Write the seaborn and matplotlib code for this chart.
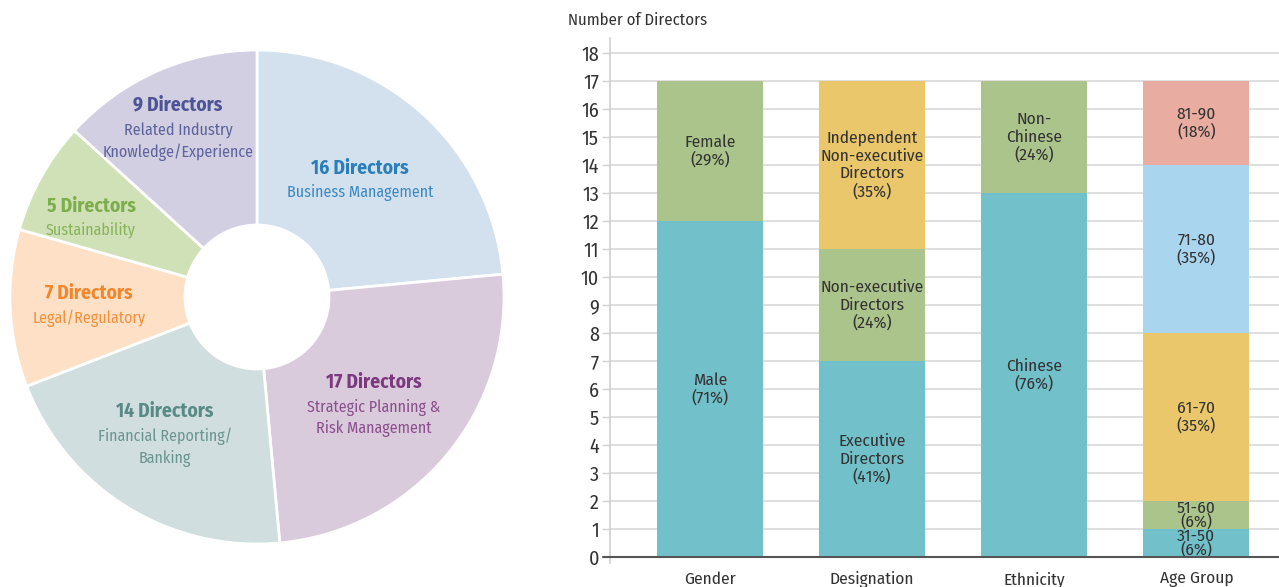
import matplotlib
matplotlib.use("Agg")
import matplotlib.pyplot as plt
import seaborn as sns
import numpy as np
import pandas as pd

# ---------------- data ----------------
skill_counts = [16, 17, 14, 7, 5, 9]
skill_titles = ["16 Directors", "17 Directors", "14 Directors", "7 Directors", "5 Directors", "9 Directors"]
skill_names = ["Business Management", "Strategic Planning &\nRisk Management", "Financial Reporting/\nBanking",
               "Legal/Regulatory", "Sustainability", "Related Industry\nKnowledge/Experience"]

categories = ["Gender", "Designation", "Ethnicity", "Age Group"]
gender_values = [12, 5]
gender_labels = ["Male\n(71%)", "Female\n(29%)"]
designation_values = [7, 4, 6]
designation_labels = ["Executive\nDirectors\n(41%)", "Non-executive\nDirectors\n(24%)",
                      "Independent\nNon-executive\nDirectors\n(35%)"]
ethnicity_values = [13, 4]
ethnicity_labels = ["Chinese\n(76%)", "Non-\nChinese\n(24%)"]
age_values = [1, 1, 6, 6, 3]
age_labels = ["31-50\n(6%)", "51-60\n(6%)", "61-70\n(35%)", "71-80\n(35%)", "81-90\n(18%)"]
y_ticks = list(range(0, 19))

# ---------------- styles ----------------
sns.set_theme(style="white")
plt.rcParams['font.family'] = ['Fira Sans Condensed', 'Asap Condensed', 'PT Sans Narrow', 'DejaVu Sans']

wedge_colors = ["#d3e1ee", "#dacbdc", "#d1dedf", "#fde0c5", "#d0e0b7", "#d1cfe1"]
title_colors = ["#2b7fb8", "#7b3a7d", "#5a8a86", "#f0872c", "#7cae4c", "#4d5494"]
name_colors = ["#3a89bf", "#8a4f8c", "#6b9591", "#f2913a", "#87b35a", "#5d639c"]

TEAL, GREEN, YELLOW, BLUE, SALMON = "#72c0ca", "#abc48b", "#ebc76b", "#a9d5ef", "#e8ada0"
seg_colors = [[TEAL, GREEN], [TEAL, GREEN, YELLOW], [TEAL, GREEN], [TEAL, GREEN, YELLOW, BLUE, SALMON]]

W, H = 1279, 587
fig = plt.figure(figsize=(W / 100, H / 100), dpi=100)

# ---------------- donut ----------------
cx, cy, R, r_in = 257, 297, 247, 72
half = 252
axd = fig.add_axes([(cx - half) / W, (H - cy - half) / H, 2 * half / W, 2 * half / H])
axd.pie(skill_counts, colors=wedge_colors, startangle=90, counterclock=False,
        radius=1.0, wedgeprops=dict(width=1 - r_in / R, edgecolor="white", linewidth=2))
axd.set_xlim(-half / R, half / R)
axd.set_ylim(-half / R, half / R)
axd.set_aspect("equal")
axd.axis("off")

title_pos = [(360, 168), (374, 382), (165, 411), (89, 293), (91, 206), (178, 105)]
name_pos = [(360, 193), (374, 418), (165, 447), (89, 318), (91, 230), (178, 142)]
for i in range(len(skill_counts)):
    tx, ty = title_pos[i]
    fig.text(tx / W, 1 - ty / H, skill_titles[i], ha="center", va="center",
             fontsize=14, fontweight="bold", color=title_colors[i])
    nx, ny = name_pos[i]
    fig.text(nx / W, 1 - ny / H, skill_names[i], ha="center", va="center",
             fontsize=11.5, color=name_colors[i], linespacing=1.35)

# ---------------- stacked bars ----------------
ax_left, ax_right, ax_top, ax_bot = 610, 1279, 38, 563
ax = fig.add_axes([ax_left / W, (H - ax_bot) / H, (ax_right - ax_left) / W, (ax_bot - ax_top) / H])

all_values = [gender_values, designation_values, ethnicity_values, age_values]
all_labels = [gender_labels, designation_labels, ethnicity_labels, age_labels]

rows = []
for ci, cat in enumerate(categories):
    cum = np.cumsum(all_values[ci])
    for si, v in enumerate(all_values[ci]):
        rows.append(dict(cat=cat, ci=ci, si=si, top=cum[si], bottom=cum[si] - v,
                         color=seg_colors[ci][si], label=all_labels[ci][si]))
df = pd.DataFrame(rows)

# draw tallest cumulative first so each segment overlays correctly
for _, row in df.sort_values("top", ascending=False).iterrows():
    sns.barplot(x=[row["cat"]], y=[row["top"]], order=categories, color=row["color"],
                width=0.655, ax=ax, saturation=1, linewidth=0, zorder=2)

for _, row in df.iterrows():
    mid = (row["top"] + row["bottom"]) / 2
    small = (row["top"] - row["bottom"]) < 1.5
    ax.text(row["ci"], mid, row["label"], ha="center", va="center", fontsize=12.5,
            color="#333333", linespacing=0.78 if small else 1.15, zorder=3)

ax.set_xlim(-0.617, 3.51)
ax.set_ylim(-0.21, 18.54)
ax.set_yticks(y_ticks)
ax.set_yticklabels([str(t) for t in y_ticks])
ax.yaxis.grid(True, color="#d9d9d9", linewidth=1.2, zorder=0)
ax.set_axisbelow(True)
for s in ["top", "right", "bottom"]:
    ax.spines[s].set_visible(False)
ax.spines["left"].set_color("#d0d0d0")
ax.spines["left"].set_linewidth(1.2)
ax.axhline(0, color="#555555", linewidth=1.5, zorder=4)
ax.plot([-0.662, -0.617], [0, 0], color="#555555", linewidth=1.5, clip_on=False, zorder=4)
ax.tick_params(axis="y", left=True, length=6, width=1, color="#d0d0d0", labelsize=14.5,
               labelcolor="#333333", pad=2)
ax.tick_params(axis="x", bottom=False, labelsize=12.5, labelcolor="#333333", pad=0)
ax.set_xlabel("")
ax.set_ylabel("")
fig.text(568 / W, 1 - 20 / H, "Number of Directors", ha="left", va="center",
         fontsize=12, color="#333333")

fig.savefig("out.png", dpi=100)
